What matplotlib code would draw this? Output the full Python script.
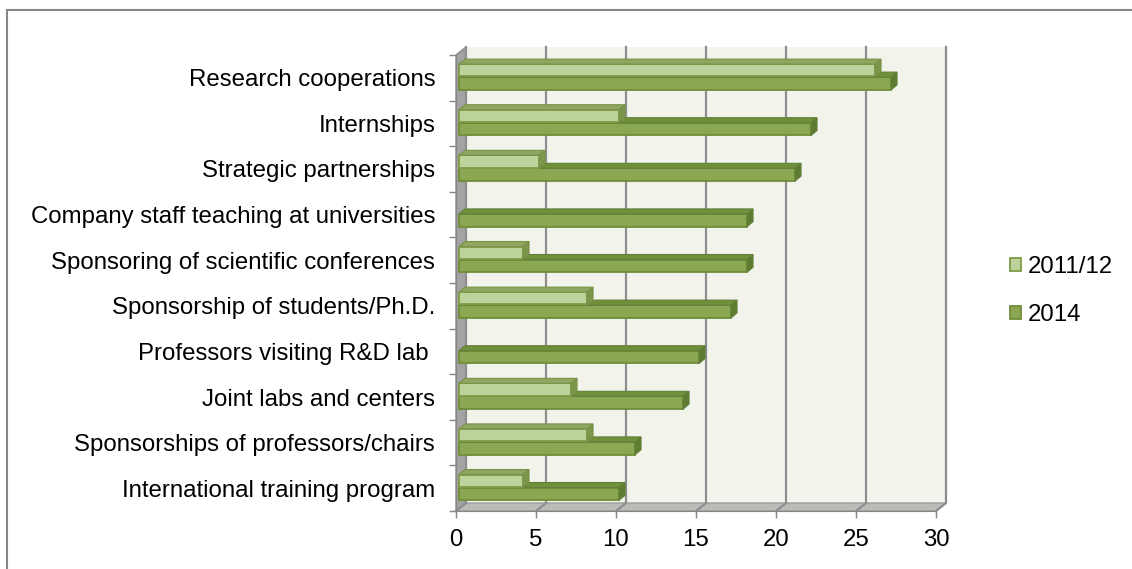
import numpy as np
import matplotlib
matplotlib.use("Agg")
import matplotlib.pyplot as plt
from matplotlib.patches import Polygon, Rectangle, Patch

categories = [
    "International training program",
    "Sponsorships of professors/chairs",
    "Joint labs and centers",
    "Professors visiting R&D lab ",
    "Sponsorship of students/Ph.D.",
    "Sponsoring of scientific conferences",
    "Company staff teaching at universities",
    "Strategic partnerships",
    "Internships",
    "Research cooperations",
]
v2011 = [4, 8, 7, 0, 8, 4, 0, 5, 10, 26]
v2014 = [10, 11, 14, 15, 17, 18, 18, 21, 22, 27]
series = ["2011/12", "2014"]
xticks = [0, 5, 10, 15, 20, 25, 30]

plt.rcParams['font.family'] = ['Liberation Sans', 'DejaVu Sans']

W, H = 1132, 569
fig = plt.figure(figsize=(W / 100, H / 100), dpi=100)
fig.patch.set_facecolor("white")

# chart border (right/bottom run off the picture)
fig.patches.append(Rectangle((6.5 / W, -0.1), 2, 1.1 - 9.5 / H, transform=fig.transFigure,
                             fill=False, edgecolor="#888888", linewidth=1.5))

ax = fig.add_axes([456 / W, 58 / H, 480 / W, 456 / H])
ax.set_xlim(0, 30)
ax.set_ylim(-0.5, 9.5)
ax.set_facecolor("none")

# depth of the fake 3d box, in data units (16 px per x unit, 45.6 px per category)
wx, wy = 10 / 16, 8 / 45.6
bx0 = 0.19
bdx, bdy = 6 / 16, 5 / 45.6

ax.add_patch(Rectangle((wx, -0.5 + wy), 30, 10, facecolor="#F2F4EC", edgecolor="none",
                       zorder=0, clip_on=False))
ax.add_patch(Polygon([(0, -0.5), (0, 9.5), (wx, 9.5 + wy), (wx, -0.5 + wy)],
                     facecolor="#A3A3A3", edgecolor="#8A8A8A", linewidth=1, zorder=1, clip_on=False))
ax.add_patch(Polygon([(0, -0.5), (30, -0.5), (30 + wx, -0.5 + wy), (wx, -0.5 + wy)],
                     facecolor="#BABCB8", edgecolor="#9C9C9C", linewidth=1, zorder=1, clip_on=False))
for t in xticks:
    ax.plot([t, t + wx, t + wx], [-0.5, -0.5 + wy, 9.5 + wy], color="#8E8E8E",
            linewidth=1.6, zorder=1.5, clip_on=False)

y = np.arange(len(categories))


def add_depth(bars, top_c, side_c, edge_c, z):
    for r in bars:
        x0, y0, w, h = r.get_x(), r.get_y(), r.get_width(), r.get_height()
        if w <= 0:
            r.set_visible(False)
            continue
        top = [(x0, y0 + h), (x0 + w, y0 + h), (x0 + w + bdx, y0 + h + bdy), (x0 + bdx, y0 + h + bdy)]
        side = [(x0 + w, y0), (x0 + w + bdx, y0 + bdy), (x0 + w + bdx, y0 + h + bdy), (x0 + w, y0 + h)]
        ax.add_patch(Polygon(top, facecolor=top_c, edgecolor=edge_c, linewidth=0.8, zorder=z))
        ax.add_patch(Polygon(side, facecolor=side_c, edgecolor=edge_c, linewidth=0.8, zorder=z))


dark = ax.barh(y - 0.125, v2014, height=0.28, left=bx0, color="#8CA752",
               edgecolor="#6F8D38", linewidth=1.3, zorder=3)
add_depth(dark, "#70903A", "#5F7C30", "#62803A", 3)
light = ax.barh(y + 0.165, v2011, height=0.27, left=bx0, color="#BED29C",
                edgecolor="#7E9C48", linewidth=1.3, zorder=4)
add_depth(light, "#8FA560", "#7D964A", "#7A9248", 4)

for s in ["top", "right"]:
    ax.spines[s].set_visible(False)
for s in ["left", "bottom"]:
    ax.spines[s].set_color("#868686")
    ax.spines[s].set_zorder(2)

ax.set_xticks(xticks)
ax.tick_params(axis="x", length=5, width=1, color="#868686", pad=8, labelsize=17.3)
ax.set_yticks(np.arange(-0.5, 10, 1))
ax.set_yticklabels([])
ax.set_yticks(y, minor=True)
ax.set_yticklabels(categories, minor=True, va="center_baseline")
ax.tick_params(axis="y", which="major", length=5, width=1, color="#868686")
ax.tick_params(axis="y", which="minor", length=0, pad=15, labelsize=17.3)

handles = [Patch(facecolor="#BED29C", edgecolor="#7E9C48", linewidth=1.3),
           Patch(facecolor="#8CA752", edgecolor="#6F8D38", linewidth=1.3)]
fig.legend(handles, series, loc="center left", bbox_to_anchor=(998 / W, 1 - 291 / H),
           frameon=False, fontsize=17.3, handlelength=0.45, handleheight=0.45,
           handletextpad=0.3, labelspacing=1.06, borderpad=0)

fig.savefig("out.png", dpi=100)
